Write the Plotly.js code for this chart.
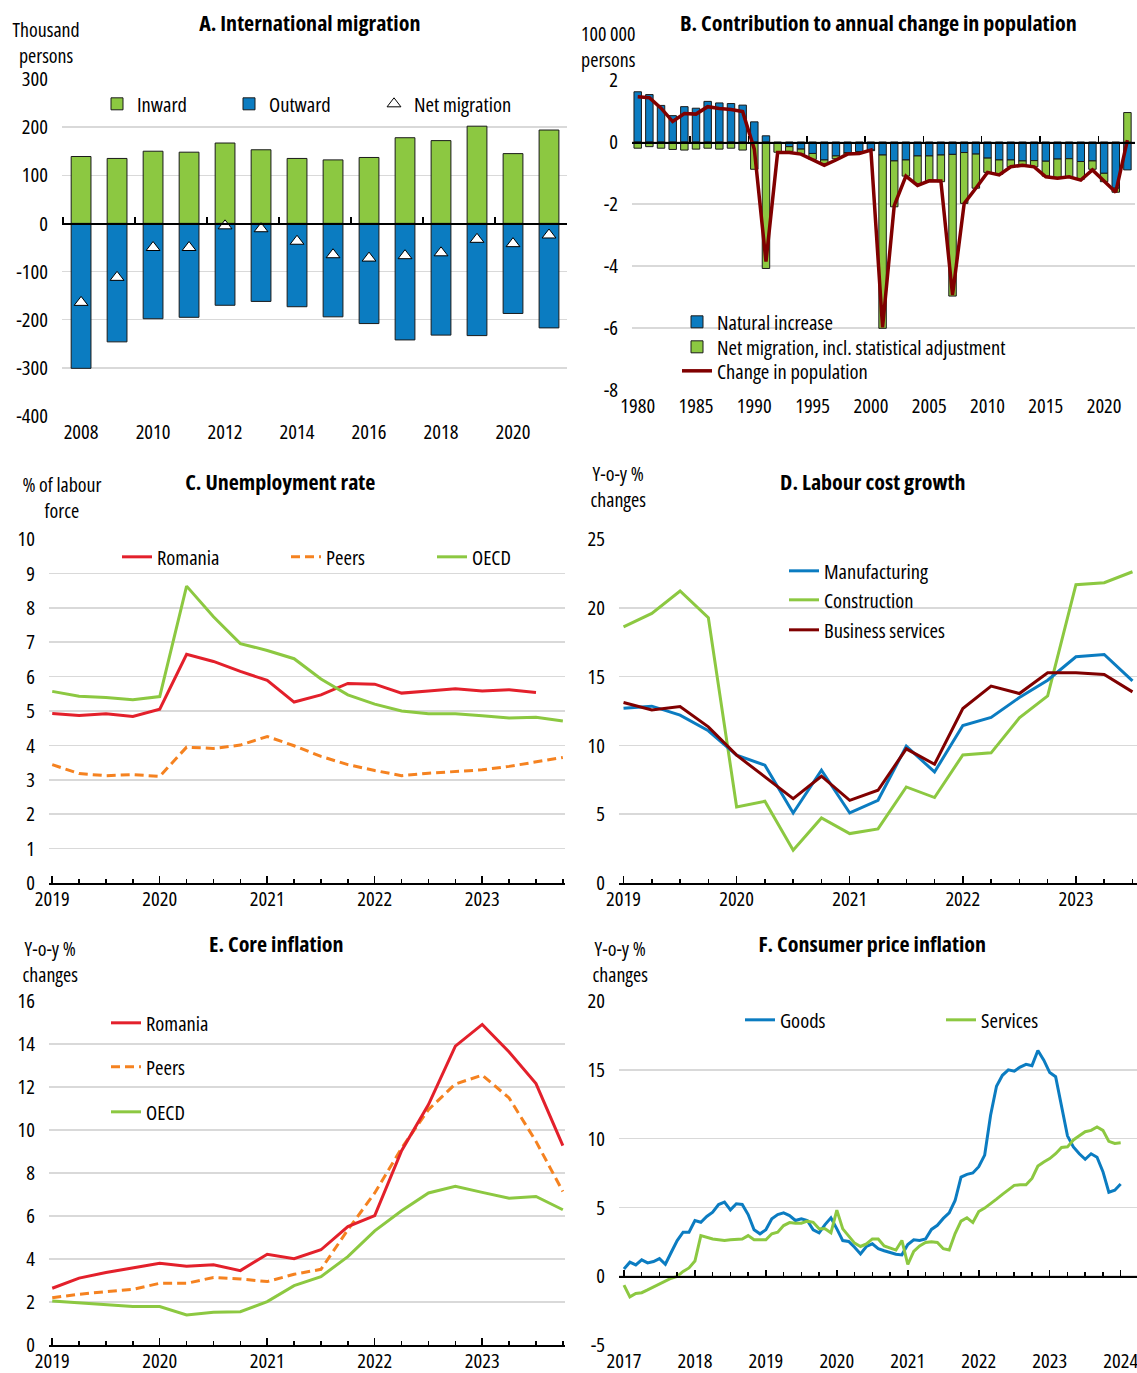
<!DOCTYPE html>
<html><head><meta charset="utf-8">
<script src="https://cdn.plot.ly/plotly-3.0.1.min.js"></script>
<style>body{margin:0;background:#fff}#chart{width:1137px;height:1373px}</style>
</head><body><div id="chart"></div>
<script>
// ---------------- DATA ----------------
// Panel A: International migration (thousand persons)
const migYears = [2008,2009,2010,2011,2012,2013,2014,2015,2016,2017,2018,2019,2020,2021];
const inward = [139,135,150,148,167,153,135,132,137,178,172,202,145,194];
const outward = [-301,-246,-198,-195,-170,-162,-173,-194,-208,-242,-232,-233,-187,-217];
const netMigration = [-164,-112,-50,-50,-5,-11,-37,-65,-72,-67,-61,-33,-42,-24];
const migTickYears = [2008,2010,2012,2014,2016,2018,2020];
const migTickText = ['2008','2010','2012','2014','2016','2018','2020'];
const migZeroTicks = [2007.5,2009.5,2011.5,2013.5,2015.5,2017.5,2019.5,2021.5];
const migYTicks = [-400,-300,-200,-100,0,100,200,300];
const migYText = ['-400','-300','-200','-100','0','100','200','300'];

// Panel B: Contribution to annual change in population (100 000 persons), 1980-2022
const popYears = Array.from({length:43}, (_, i) => 1980 + i);
const naturalIncrease = [1.62,1.53,1.18,0.85,1.14,1.09,1.31,1.26,1.24,1.19,
  0.65,0.20,-0.02,-0.15,-0.23,-0.37,-0.58,-0.45,-0.34,-0.31,
  -0.26,-0.42,-0.61,-0.58,-0.45,-0.45,-0.42,-0.40,-0.34,-0.39,
  -0.52,-0.58,-0.58,-0.61,-0.60,-0.62,-0.55,-0.54,-0.63,-0.61,
  -1.01,-1.49,-0.90];
const netMigrationAdj = [-0.20,-0.15,-0.20,-0.24,-0.26,-0.23,-0.20,-0.23,-0.20,-0.26,
  -0.88,-4.08,-0.31,-0.15,-0.16,-0.19,-0.12,-0.09,-0.05,-0.04,
  -0.02,-5.59,-1.48,-0.52,-0.90,-0.80,-0.86,-4.57,-1.64,-1.10,
  -0.46,-0.46,-0.22,-0.13,-0.20,-0.48,-0.59,-0.58,-0.57,-0.27,
  -0.27,-0.13,0.95];
const popChange = [1.46,1.43,1.09,0.66,0.92,0.90,1.14,1.08,1.05,0.98,
  -0.23,-3.86,-0.34,-0.34,-0.39,-0.58,-0.75,-0.58,-0.39,-0.37,
  -0.26,-5.98,-2.05,-1.10,-1.40,-1.25,-1.26,-4.94,-1.98,-1.49,
  -0.98,-1.06,-0.80,-0.75,-0.80,-1.12,-1.17,-1.12,-1.23,-0.90,
  -1.26,-1.62,0.06];
const popTickYears = [1980,1985,1990,1995,2000,2005,2010,2015,2020];
const popTickText = ['1980','1985','1990','1995','2000','2005','2010','2015','2020'];
const popZeroTicks = [1979.5,1984.5,1989.5,1994.5,1999.5,2004.5,2009.5,2014.5,2019.5];
const popYTicks = [-8,-6,-4,-2,0,2];
const popYText = ['-8','-6','-4','-2','0','2'];

// Quarterly periods 2019Q1 onwards
const quarters = Array.from({length:20}, (_, i) => 2019 + i / 4);
const qTickYears = [2019,2020,2021,2022,2023];
const qTickText = ['2019','2020','2021','2022','2023'];

// Panel C: Unemployment rate (% of labour force)
const unempRomania = [4.93,4.87,4.92,4.84,5.05,6.65,6.44,6.15,5.89,5.26,5.47,5.80,5.78,5.52,5.58,5.65,5.58,5.62,5.54];
const unempPeers = [3.44,3.18,3.12,3.15,3.10,3.95,3.91,4.01,4.26,3.99,3.68,3.44,3.27,3.12,3.19,3.24,3.29,3.39,3.53,3.65];
const unempOECD = [5.57,5.43,5.39,5.33,5.42,8.63,7.74,6.96,6.76,6.52,5.93,5.47,5.20,5.00,4.92,4.92,4.86,4.80,4.82,4.71];
const unempYTicks = [0,1,2,3,4,5,6,7,8,9,10];

// Panel D: Labour cost growth (y-o-y %)
const lcManufacturing = [12.7,12.85,12.2,11.06,9.29,8.56,5.09,8.2,5.09,6.01,9.94,8.07,11.45,12.03,13.48,14.74,16.44,16.61,14.69];
const lcConstruction = [18.62,19.59,21.22,19.28,5.53,5.94,2.38,4.73,3.59,3.93,6.98,6.21,9.31,9.46,12.0,13.6,21.68,21.82,22.62];
const lcBusiness = [13.12,12.58,12.83,11.35,9.29,7.71,6.13,7.76,6.01,6.74,9.75,8.63,12.68,14.31,13.77,15.28,15.28,15.15,13.89];
const lcYTicks = [0,5,10,15,20,25];

// Panel E: Core inflation (y-o-y %)
const coreRomania = [2.64,3.11,3.37,3.57,3.80,3.66,3.73,3.46,4.22,4.01,4.43,5.51,6.02,9.04,11.18,13.9,14.91,13.63,12.16,9.27];
const corePeers = [2.2,2.36,2.48,2.59,2.87,2.87,3.14,3.07,2.95,3.29,3.52,5.36,7.07,9.16,10.95,12.14,12.55,11.49,9.47,7.14];
const coreOECD = [2.05,1.97,1.89,1.79,1.79,1.40,1.52,1.55,2.02,2.76,3.18,4.11,5.31,6.24,7.07,7.38,7.1,6.83,6.91,6.29];
const coreYTicks = [0,2,4,6,8,10,12,14,16];

// Panel F: Consumer price inflation (y-o-y %), monthly Jan 2017 - Jan 2024
const months = Array.from({length:85}, (_, i) => 2017 + i / 12);
const cpiGoods = [0.53,1.02,0.82,1.19,0.97,1.07,1.28,0.87,1.74,2.59,3.2,3.2,
  4.05,3.92,4.34,4.65,5.21,5.38,4.82,5.26,5.21,4.48,3.37,3.08,
  3.37,4.17,4.48,4.6,4.41,4.05,4.17,4.05,3.37,3.15,3.75,4.24,
  3.44,2.59,2.52,2.11,1.62,2.16,2.35,2.0,1.85,1.7,1.6,1.55,
  2.3,2.65,2.6,2.7,3.4,3.7,4.2,4.6,5.5,7.2,7.4,7.5,
  7.96,8.8,11.7,13.8,14.6,15.0,14.9,15.2,15.4,15.3,16.4,15.7,
  14.8,14.5,12.2,10.2,9.4,8.9,8.5,8.9,8.65,7.6,6.1,6.25,
  6.7];
const cpiServices = [-0.65,-1.5,-1.25,-1.2,-1.0,-0.8,-0.6,-0.4,-0.15,-0.02,0.35,0.6,
  1.1,2.95,2.8,2.7,2.65,2.6,2.65,2.68,2.7,2.95,2.65,2.64,
  2.64,3.08,3.2,3.68,3.9,3.85,3.85,4.0,3.92,3.44,3.44,3.15,
  4.8,3.44,2.96,2.4,2.16,2.35,2.71,2.7,2.2,2.05,1.9,2.6,
  0.85,1.8,2.2,2.45,2.5,2.45,2.0,1.9,3.1,4.0,4.25,3.9,
  4.7,4.95,5.25,5.6,5.95,6.3,6.6,6.65,6.65,7.1,8.0,8.3,
  8.55,8.9,9.35,9.4,9.9,10.2,10.5,10.6,10.85,10.6,9.8,9.65,
  9.7];
const mTickYears = [2017,2018,2019,2020,2021,2022,2023,2024];
const mTickText = ['2017','2018','2019','2020','2021','2022','2023','2024'];
const mQuarterTicks = Array.from({length:30}, (_, i) => 2017 + (i + 1) / 4).filter(v => v % 1 !== 0);
const qMinorTicks = Array.from({length:20}, (_, i) => 2019 + i / 4).filter(v => v % 1 !== 0);
const cpiYTicks = [-5,0,5,10,15,20];
const cpiYText = ['-5','0','5','10','15','20'];

// ---------------- FONT PICK (narrow sans, sized to reference text widths) ----------------
function measureText(fam, stretch, size, weight, text) {
  const s = document.createElement('span');
  s.style.position = 'absolute'; s.style.visibility = 'hidden'; s.style.whiteSpace = 'nowrap';
  s.style.fontSize = size + 'px'; s.style.fontFamily = fam; s.style.fontStretch = stretch;
  s.style.fontWeight = weight || 'normal'; s.textContent = text;
  document.body.appendChild(s);
  const w = s.getBoundingClientRect().width;
  document.body.removeChild(s);
  return w;
}
const TEST = 'Net migration, incl. statistical adjustment';
const TEST_W = 293;
const TITLE_TEST = 'B. Contribution to annual change in population';
const TITLE_W = 408;
const candidates = [
  ['Liberation Sans Narrow','normal'], ['Arial Narrow','normal'], ['Roboto Condensed','normal'],
  ['Noto Sans','condensed'], ['Open Sans','condensed'], ['Roboto','condensed'],
  ['DejaVu Sans Condensed','normal'], ['DejaVu Sans','condensed'],
  ['Liberation Sans','condensed'], ['Liberation Sans','normal']];
let pick = null;
for (const [f, st] of candidates) {
  const a = measureText('"' + f + '", monospace', st, 40, 'normal', TEST);
  const b = measureText('monospace', st, 40, 'normal', TEST);
  const c = measureText('"' + f + '", serif', st, 40, 'normal', TEST);
  const d = measureText('serif', st, 40, 'normal', TEST);
  if (Math.abs(a - b) > 0.5 || Math.abs(c - d) > 0.5) {
    const w = measureText('"' + f + '", sans-serif', st, 18, 'normal', TEST);
    if (!pick || w < pick.w - 1) pick = {f:f, st:st, w:w};
  }
}
if (!pick) pick = {f:'Liberation Sans', st:'normal', w:measureText('"Liberation Sans", sans-serif', 'normal', 18, 'normal', TEST)};
const FONT = '"' + pick.f + '", "Liberation Sans", Arial, sans-serif';
document.getElementById('chart').style.fontStretch = pick.st;
const clamp = (v, lo, hi) => Math.max(lo, Math.min(hi, v));
const FS = clamp(18 * TEST_W / pick.w, 14, 20.5);
const UFS = FS * 0.97;
const TFS = clamp(20 * TITLE_W / measureText(FONT, pick.st, 20, 'bold', TITLE_TEST), 15, 22);

// ---------------- STYLE ----------------
const W = 1137, H = 1373;
const px = v => v / W;
const py = v => 1 - v / H;
const GREEN = '#8CC841', BLUE = '#0B7CC1', DARKRED = '#800000', RED = '#E3202B', ORANGE = '#F58220';
const GRID = '#D9D9D9';
const BAR_LINE = {color:'#1a1a1a', width:1};

function yAx(domainPx, range, vals, text, anchor) {
  return {domain:[py(domainPx[1]), py(domainPx[0])], range:range, anchor:anchor,
    tickmode:'array', tickvals:vals, ticktext:text || vals.map(String),
    showgrid:true, gridcolor:GRID, gridwidth:1.5, zeroline:false, showline:false,
    ticks:'', ticklabelstandoff:13, tickfont:{size:FS}, fixedrange:true};
}
function xLabelAx(domainPx, range, vals, text, anchor) {
  return {domain:[px(domainPx[0]), px(domainPx[1])], range:range, anchor:anchor,
    tickmode:'array', tickvals:vals, ticktext:text, ticks:'', showline:false,
    showgrid:false, zeroline:false, ticklabelstandoff:1, ticklabeloverflow:'allow',
    tickfont:{size:FS}, fixedrange:true};
}
function zeroPos(yd, yr) {
  const d0 = py(yd[1]), d1 = py(yd[0]);
  return d0 + (0 - yr[0]) / (yr[1] - yr[0]) * (d1 - d0);
}
function xZeroAx(over, range, vals, pos, minorVals) {
  const ax = {overlaying:over, anchor:'free', position:pos, range:range,
    tickmode:'array', tickvals:vals, showticklabels:false, ticks:'inside', ticklen:6,
    tickwidth:1.5, tickcolor:'#000', showline:true, linecolor:'#000', linewidth:1.5,
    showgrid:false, zeroline:false, fixedrange:true};
  if (minorVals) ax.minor = {tickmode:'array', tickvals:minorVals, ticks:'inside', ticklen:4, tickwidth:1.5, tickcolor:'#000', showgrid:false};
  return ax;
}
function xLineAx(domainPx, range, vals, text, anchor, minorVals) {
  return {domain:[px(domainPx[0]), px(domainPx[1])], range:range, anchor:anchor,
    tickmode:'array', tickvals:vals, ticktext:text, ticks:'inside', ticklen:7, tickwidth:1.5,
    tickcolor:'#000', showline:true, linecolor:'#000', linewidth:1.5, showgrid:false, zeroline:false,
    ticklabelstandoff:-3, tickfont:{size:FS}, fixedrange:true,
    minor:{tickmode:'array', tickvals:minorVals, ticks:'inside', ticklen:4, tickwidth:1.5, tickcolor:'#000', showgrid:false}};
}

// Panel geometry (pixels)
const A = {x:[62,567], y:[79,416], xr:[2007.47,2021.5], yr:[-400,300]};
const B = {x:[632,1135], y:[80,390], xr:[1979.51,2022.65], yr:[-8,2]};
const C = {x:[49,565], y:[539,883], xr:[2018.97,2023.77], yr:[0,10]};
const D = {x:[619,1137], y:[539,883], xr:[2018.96,2023.54], yr:[0,25]};
const E = {x:[49,565], y:[1001,1345], xr:[2018.97,2023.77], yr:[0,16]};
const F = {x:[619,1137], y:[1001,1345], xr:[2016.93,2024.23], yr:[-5,20]};

// ---------------- LEGENDS (one box per entry, placed like the reference) ----------------
const legends = {};
let legendCount = 0;
function legendAt(textX, yc) {
  legendCount++;
  const key = legendCount === 1 ? 'legend' : 'legend' + legendCount;
  legends[key] = {x:px(textX - 40), y:py(yc), xanchor:'left', yanchor:'middle', orientation:'v',
    bgcolor:'rgba(0,0,0,0)', borderwidth:0, font:{family:FONT, size:FS, color:'#000'}};
  return key;
}

// ---------------- TRACES ----------------
const traces = [
  // A
  {type:'bar', x:migYears, y:inward, name:'Inward', width:0.55, marker:{color:GREEN, line:BAR_LINE}, xaxis:'x', yaxis:'y', legend:legendAt(137, 104)},
  {type:'bar', x:migYears, y:outward, name:'Outward', width:0.55, marker:{color:BLUE, line:BAR_LINE}, xaxis:'x', yaxis:'y', legend:legendAt(269, 104)},
  {type:'scatter', mode:'markers', x:migYears, y:netMigration, name:'Net migration', marker:{symbol:'triangle-up', size:12, color:'#fff', line:{color:'#000', width:1}}, xaxis:'x2', yaxis:'y', legend:legendAt(414, 104)},
  // B
  {type:'bar', x:popYears, y:naturalIncrease, name:'Natural increase', width:0.64, marker:{color:BLUE, line:BAR_LINE}, xaxis:'x3', yaxis:'y3', legend:legendAt(717, 322)},
  {type:'bar', x:popYears, y:netMigrationAdj, name:'Net migration, incl. statistical adjustment', width:0.64, marker:{color:GREEN, line:BAR_LINE}, xaxis:'x3', yaxis:'y3', legend:legendAt(717, 347)},
  {type:'scatter', mode:'lines', x:popYears, y:popChange, name:'Change in population', line:{color:DARKRED, width:3.5}, xaxis:'x4', yaxis:'y3', legend:legendAt(717, 371)},
  // C
  {type:'scatter', mode:'lines', x:quarters.slice(0, unempRomania.length), y:unempRomania, name:'Romania', line:{color:RED, width:3}, xaxis:'x5', yaxis:'y5', legend:legendAt(157, 557)},
  {type:'scatter', mode:'lines', x:quarters, y:unempPeers, name:'Peers', line:{color:ORANGE, width:3, dash:'9px,5px'}, xaxis:'x5', yaxis:'y5', legend:legendAt(326, 557)},
  {type:'scatter', mode:'lines', x:quarters, y:unempOECD, name:'OECD', line:{color:GREEN, width:3}, xaxis:'x5', yaxis:'y5', legend:legendAt(472, 557)},
  // D
  {type:'scatter', mode:'lines', x:quarters.slice(0, lcConstruction.length), y:lcConstruction, name:'Construction', line:{color:GREEN, width:3}, xaxis:'x6', yaxis:'y6', legend:legendAt(824, 600)},
  {type:'scatter', mode:'lines', x:quarters.slice(0, lcManufacturing.length), y:lcManufacturing, name:'Manufacturing', line:{color:BLUE, width:3}, xaxis:'x6', yaxis:'y6', legend:legendAt(824, 571)},
  {type:'scatter', mode:'lines', x:quarters.slice(0, lcBusiness.length), y:lcBusiness, name:'Business services', line:{color:DARKRED, width:3}, xaxis:'x6', yaxis:'y6', legend:legendAt(824, 630)},
  // E
  {type:'scatter', mode:'lines', x:quarters, y:coreOECD, name:'OECD', line:{color:GREEN, width:3}, xaxis:'x7', yaxis:'y7', legend:legendAt(146, 1112)},
  {type:'scatter', mode:'lines', x:quarters, y:corePeers, name:'Peers', line:{color:ORANGE, width:3, dash:'9px,5px'}, xaxis:'x7', yaxis:'y7', legend:legendAt(146, 1067)},
  {type:'scatter', mode:'lines', x:quarters, y:coreRomania, name:'Romania', line:{color:RED, width:3}, xaxis:'x7', yaxis:'y7', legend:legendAt(146, 1023)},
  // F
  {type:'scatter', mode:'lines', x:months, y:cpiGoods, name:'Goods', line:{color:BLUE, width:3}, xaxis:'x8', yaxis:'y8', legend:legendAt(780, 1020)},
  {type:'scatter', mode:'lines', x:months, y:cpiServices, name:'Services', line:{color:GREEN, width:3}, xaxis:'x9', yaxis:'y8', legend:legendAt(981, 1020)}
];

// ---------------- LAYOUT ----------------
const titleFont = {family:FONT, size:TFS, color:'#000', weight:'bold'};
function title(text, xc, yc) {
  return {text:text, xref:'paper', yref:'paper', x:px(xc), y:py(yc), xanchor:'center', yanchor:'middle', showarrow:false, font:titleFont};
}
function unit(text, xc, yc) {
  return {text:text, xref:'paper', yref:'paper', x:px(xc), y:py(yc), xanchor:'center', yanchor:'middle', align:'center',
    showarrow:false, borderpad:0, font:{family:FONT, size:UFS, color:'#000'}};
}

const layout = Object.assign({
  width:W, height:H, margin:{l:0, r:0, t:0, b:0, pad:0}, autosize:false,
  paper_bgcolor:'#fff', plot_bgcolor:'rgba(0,0,0,0)',
  font:{family:FONT, size:FS, color:'#000'},
  barmode:'relative', hovermode:false, showlegend:true,
  // A
  xaxis: xLabelAx(A.x, A.xr, migTickYears, migTickText, 'y'),
  xaxis2: xZeroAx('x', A.xr, migZeroTicks, zeroPos(A.y, A.yr)),
  yaxis: yAx(A.y, A.yr, migYTicks, migYText, 'x'),
  // B
  xaxis3: xLabelAx(B.x, B.xr, popTickYears, popTickText, 'y3'),
  xaxis4: xZeroAx('x3', B.xr, popZeroTicks, zeroPos(B.y, B.yr)),
  yaxis3: yAx(B.y, B.yr, popYTicks, popYText, 'x3'),
  // C
  xaxis5: xLineAx(C.x, C.xr, qTickYears, qTickText, 'y5', qMinorTicks),
  yaxis5: yAx(C.y, C.yr, unempYTicks, null, 'x5'),
  // D
  xaxis6: xLineAx(D.x, D.xr, qTickYears, qTickText, 'y6', qMinorTicks),
  yaxis6: yAx(D.y, D.yr, lcYTicks, null, 'x6'),
  // E
  xaxis7: xLineAx(E.x, E.xr, qTickYears, qTickText, 'y7', qMinorTicks),
  yaxis7: yAx(E.y, E.yr, coreYTicks, null, 'x7'),
  // F
  xaxis8: xLabelAx(F.x, F.xr, mTickYears, mTickText, 'y8'),
  xaxis9: xZeroAx('x8', F.xr, mTickYears, zeroPos(F.y, F.yr), mQuarterTicks),
  yaxis8: yAx(F.y, F.yr, cpiYTicks, cpiYText, 'x8'),
  annotations: [
    title('A. International migration', 310, 22),
    title('B. Contribution to annual change in population', 878, 22),
    title('C. Unemployment rate', 280, 481),
    title('D. Labour cost growth', 873, 481),
    title('E. Core inflation', 276, 943),
    title('F. Consumer price inflation', 873, 943),
    unit('Thousand<br>persons', 46, 43),
    unit('100 000<br>persons', 608, 46),
    unit('% of labour<br>force', 62, 498),
    unit('Y-o-y %<br>changes', 618, 486),
    unit('Y-o-y %<br>changes', 50, 961),
    unit('Y-o-y %<br>changes', 620, 961)
  ]
}, legends);

Plotly.newPlot('chart', traces, layout, {displayModeBar:false, staticPlot:true});
</script></body></html>
